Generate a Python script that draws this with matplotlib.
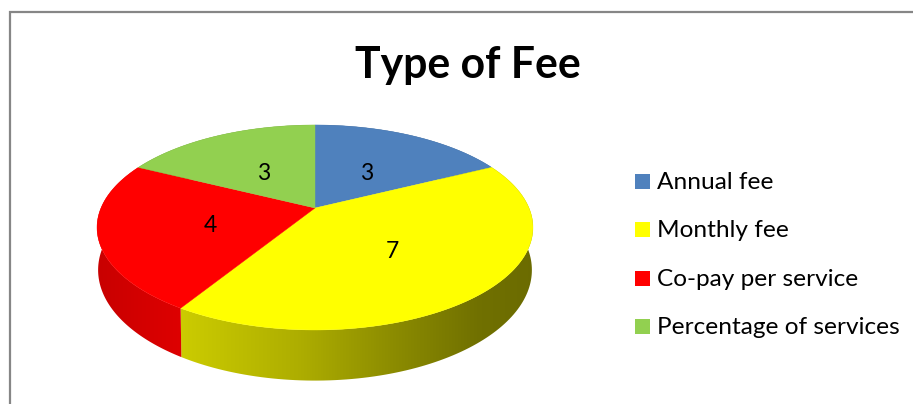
import numpy as np
import matplotlib as mpl
mpl.use('Agg')
import matplotlib.pyplot as plt
from matplotlib.patches import Polygon, Rectangle

categories = ['Annual fee', 'Monthly fee', 'Co-pay per service', 'Percentage of services']
values = [3, 7, 4, 3]
colors = ['#4F81BD', '#FFFF00', '#FF0000', '#92D050']
title = 'Type of Fee'

plt.rcParams['font.family'] = ['Lato', 'DejaVu Sans']

W, H = 913, 404
CX, CY = 315, 208  # pie apex in pixels
A, B, K = 214, 98.8, 0.19  # ellipse radii and perspective strength
DEPTH = 41

def project(theta, depth=0.0):
    s = 1 / (1 + K * np.sin(theta))
    x = CX + A * np.cos(theta) * s
    y = CY - B * np.sin(theta) * s + depth * s
    return x, y

fig = plt.figure(figsize=(W / 100, H / 100), dpi=100)
ax = fig.add_axes([0, 0, 1, 1])
ax.set_xlim(0, W)
ax.set_ylim(H, 0)
ax.axis('off')

# chart frame, runs off the right and bottom of the picture
ax.plot([10, 10, W + 5], [H + 5, 12, 12], color='#868686', lw=1.6, solid_joinstyle='miter')

fractions = np.cumsum([0] + values) / sum(values)
angles = np.pi / 2 - 2 * np.pi * fractions  # clockwise from the top

# wall brightness along x, one ramp per slice (blue and green walls stay hidden)
xs = np.linspace(90, 540, 200)
ramps = [np.full_like(xs, 0.6),
         np.interp(xs, [180, 300, 400, 480, 540], [0.80, 0.68, 0.54, 0.44, 0.42]),
         np.interp(xs, [90, 190], [0.78, 0.88]),
         np.full_like(xs, 0.6)]

# side walls first, the top surface covers whatever sticks out behind
for i, col in enumerate(colors):
    th = np.linspace(angles[i], angles[i + 1], 120)
    x0, y0 = project(th)
    x1, y1 = project(th, DEPTH)
    x1 = CX + (x1 - CX) * 0.995
    wall = Polygon(np.column_stack([np.r_[x0, x1[::-1]], np.r_[y0, y1[::-1]]]),
                   closed=True, fc='none', ec='none')
    ax.add_patch(wall)
    rgb = np.array(mpl.colors.to_rgb(col))
    img = ramps[i][None, :, None] * rgb[None, None, :]
    im = ax.imshow(img, extent=[90, 540, 400, 120], aspect='auto', zorder=2,
                   interpolation='bilinear')
    im.set_clip_path(wall)

# imshow resets the limits
ax.set_xlim(0, W)
ax.set_ylim(H, 0)

# top surface
for i, col in enumerate(colors):
    th = np.linspace(angles[i], angles[i + 1], 200)
    x0, y0 = project(th)
    pts = np.column_stack([np.r_[CX, x0], np.r_[CY, y0]])
    ax.add_patch(Polygon(pts, closed=True, fc=col, ec=col, lw=0.3, zorder=3))

# value labels
label_frac = [0.53, 0.46, 0.48, 0.53]
mids = (angles[:-1] + angles[1:]) / 2
for v, m, f in zip(values, mids, label_frac):
    s = 1 / (1 + K * np.sin(m))
    lx = CX + A * np.cos(m) * s * f
    ly = CY - B * np.sin(m) * s * f + 4
    ax.text(lx, ly, str(v), ha='center', va='center', fontsize=16.5, color='black', zorder=4)

ax.text(468, 65, title, ha='center', va='center', fontsize=30.8, fontweight='bold', color='black')

# legend
leg_y = [181.5, 229.5, 278.5, 326.5]
for name, col, y in zip(categories, colors, leg_y):
    ax.add_patch(Rectangle((635, y - 7.5), 15, 15, fc=col, ec='none'))
    ax.text(657, y + 1, name, ha='left', va='center', fontsize=17.6, color='black')

fig.savefig('out.png', dpi=100)
